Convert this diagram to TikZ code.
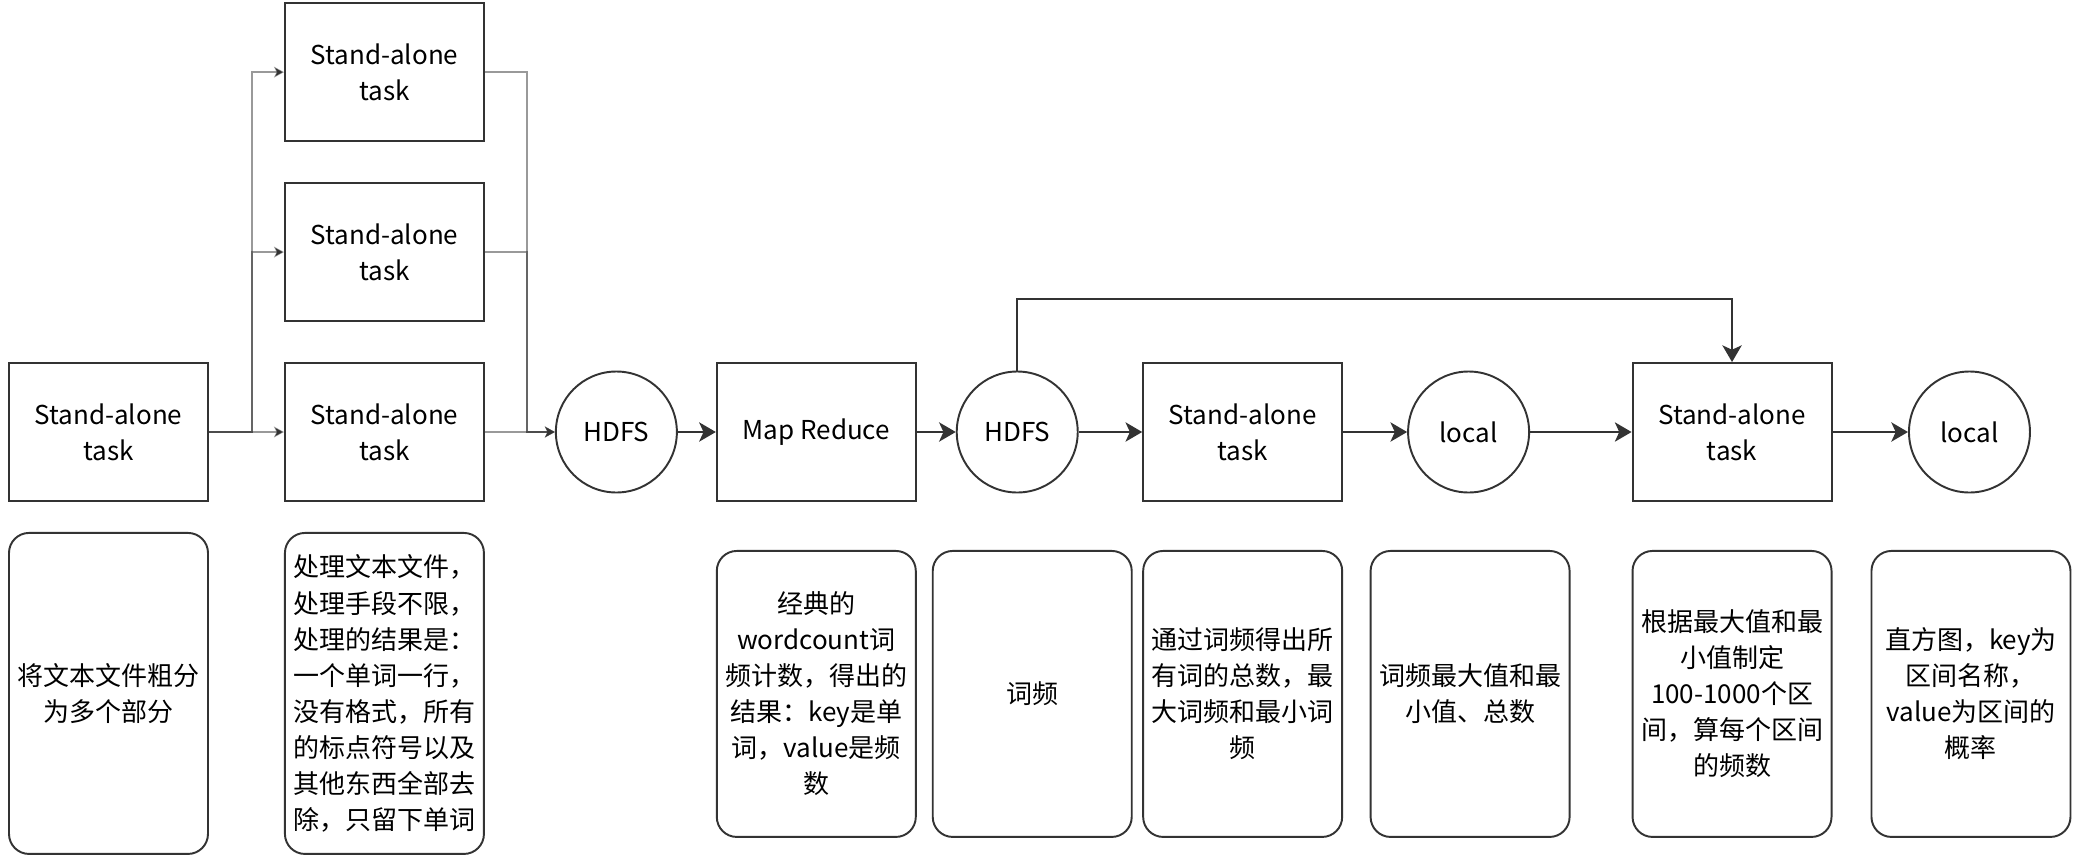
\documentclass[tikz,border=0pt]{standalone}
\usepackage{fontspec}
\setmainfont{Noto Sans CJK SC}
\definecolor{DarkLine}{RGB}{51, 51, 51}
\usetikzlibrary{arrows.meta, positioning}

\begin{document}
\begin{tikzpicture}[
        font=\fontsize{14.8}{20.5}\selectfont,
        task/.style={rectangle, draw=DarkLine, line width=1.1pt, minimum width=3.98cm, minimum height=2.76cm, align=center},
        store/.style={circle, draw=DarkLine, line width=1.1pt, minimum size=2.42cm, inner sep=0pt},
        note/.style={rectangle, rounded corners=0.4cm, draw=DarkLine, line width=1.1pt, minimum width=3.98cm, minimum height=5.72cm, align=center},
        line/.style={draw=DarkLine, line width=1.1pt, -{Stealth[length=9.5pt, width=11pt, inset=2.5pt]}},
        thinline/.style={draw=DarkLine, draw opacity=0.5, line width=0.75pt, -{Stealth[length=5.7pt, width=6.2pt, inset=1.5pt]}}
    ]
        \useasboundingbox (0,0) rectangle (41.56,-17.2);

        \node [task] (split0) at (2.17,-8.64) {Stand-alone\\task};
        \node [task, right=1.5cm of split0] (task3) {Stand-alone\\task};
        \node [task, above=0.8cm of task3] (task2) {Stand-alone\\task};
        \node [task, above=0.8cm of task2] (task1) {Stand-alone\\task};
        \node [store, right=1.4cm of task3] (hdfs1) {HDFS};
        \node [task, right=0.76cm of hdfs1] (mapred) {Map Reduce};
        \node [store, right=0.78cm of mapred] (hdfs2) {HDFS};
        \node [task, right=1.27cm of hdfs2] (stats) {Stand-alone\\task};
        \node [store, right=1.28cm of stats] (local1) {local};
        \node [task, right=2.03cm of local1] (hist) {Stand-alone\\task};
        \node [store, right=1.51cm of hist] (local2) {local};

        \node [note, minimum height=6.42cm, below=0.6cm of split0] (splitnote) {将文本文件粗分\\为多个部分};
        \node [note, minimum height=6.42cm, below=0.6cm of task3] (tasknote) {处理文本文件，\\处理手段不限，\\处理的结果是：\\一个单词一行，\\没有格式，所有\\的标点符号以及\\其他东西全部去\\除，只留下单词};
        \node [note, below=0.96cm of mapred] (mapnote) {经典的\\wordcount词\\频计数，得出的\\结果：key是单\\词，value是频\\数};
        \node [note, right=0.3cm of mapnote] (hdfsnote) {词频};
        \node [note, below=0.96cm of stats] (statsnote) {通过词频得出所\\有词的总数，最\\大词频和最小词\\频};
        \node [note, right=0.53cm of statsnote] (localnote1) {词频最大值和最\\小值、总数};
        \node [note, below=0.96cm of hist] (histnote) {根据最大值和最\\小值制定\\100-1000个区\\间，算每个区间\\的频数};
        \node [note, right=0.76cm of histnote] (localnote2) {直方图，key为\\区间名称，\\value为区间的\\概率};

        \coordinate [right=0.86cm of split0] (fork);
        \coordinate [right=0.84cm of task3] (join);
        \coordinate [above=1.44cm of hdfs2] (loop);

        \path [thinline] (split0) -- (fork) |- (task1);
        \path [thinline] (split0) -- (fork) |- (task2);
        \path [thinline] (split0) -- (task3);
        \path [thinline] (task1) -| (join) -- (hdfs1);
        \path [thinline] (task2) -| (join) -- (hdfs1);
        \path [thinline] (task3) -- (hdfs1);
        \path [line] (hdfs1) -- (mapred);
        \path [line] (mapred) -- (hdfs2);
        \path [line] (hdfs2) -- (stats);
        \path [line] (stats) -- (local1);
        \path [line] (local1) -- (hist);
        \path [line] (hist) -- (local2);
        \path [line] (hdfs2) -- (loop) -| (hist);
    \end{tikzpicture}
\end{document}
